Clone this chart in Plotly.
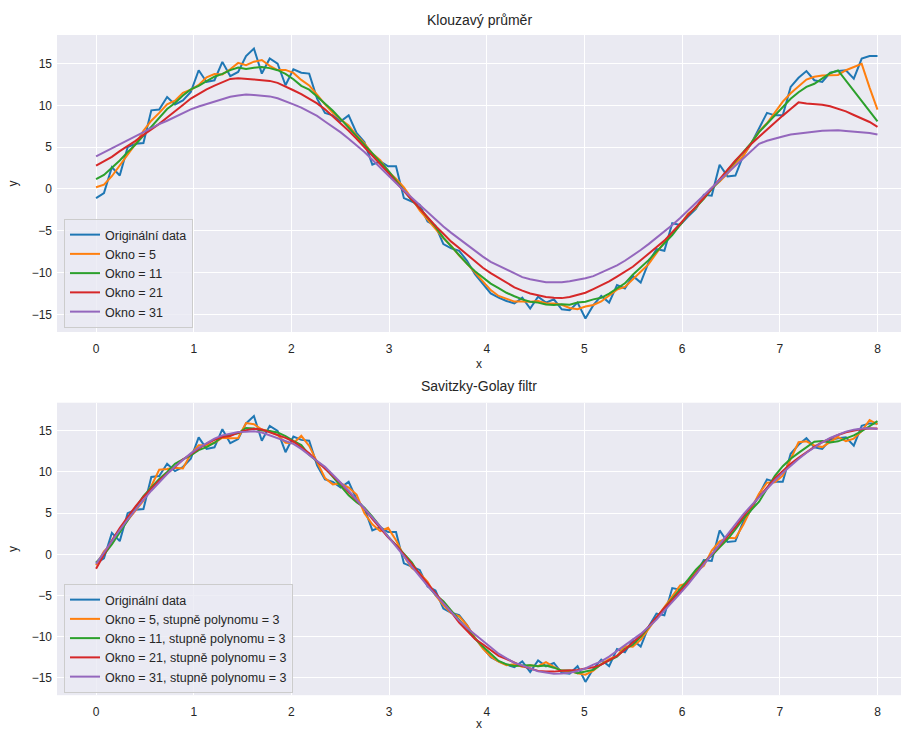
import numpy as np
import plotly.graph_objects as go

# ---- data ----
n_points = 100
x_start, x_end = 0.0, 8.0
y_orig = [
    -1.1, -0.5, 2.6, 1.6, 5.0, 5.4, 5.5, 9.4, 9.5, 11.0,
    10.1, 10.6, 11.6, 14.2, 12.8, 13.0, 15.2, 13.5, 14.0, 15.9,
    16.8, 13.8, 15.6, 15.0, 12.4, 14.3, 13.9, 13.8, 10.8, 9.1,
    8.8, 8.1, 8.8, 6.7, 5.6, 2.9, 3.3, 2.7, 2.7, -1.1,
    -1.5, -1.9, -3.9, -4.4, -6.6, -7.1, -7.4, -8.6, -10.2, -11.4,
    -12.5, -13.0, -13.4, -13.7, -13.0, -14.3, -12.9, -13.6, -13.2, -14.4,
    -14.5, -13.6, -15.5, -13.9, -12.8, -13.6, -11.5, -11.9, -10.4, -11.2,
    -8.8, -7.2, -7.4, -4.1, -4.3, -3.3, -2.4, -0.7, -0.8, 2.9,
    1.5, 1.6, 4.0, 5.4, 7.2, 9.1, 8.8, 8.8, 12.2, 13.3,
    14.1, 13.0, 12.8, 13.9, 14.1, 14.2, 13.2, 15.6, 15.9, 15.9,
]
windows = [5, 11, 21, 31]
poly_order = 3
x_ticks = [0, 1, 2, 3, 4, 5, 6, 7, 8]
y_ticks = [-15, -10, -5, 0, 5, 10, 15]
colors = ["#1f77b4", "#ff7f0e", "#2ca02c", "#d62728", "#9467bd"]
title_ma = "Klouzavý průměr"
title_sg = "Savitzky-Golay filtr"
label_orig = "Originální data"

x = np.linspace(x_start, x_end, n_points)
y = np.array(y_orig)


def moving_average(v, w):
    return np.convolve(v, np.ones(w) / w, mode="same")


def savgol(v, w, p):
    half = w // 2
    n = len(v)
    out = np.empty(n)
    t = np.arange(-half, half + 1)
    A = np.vander(t, p + 1, increasing=True)
    coeffs = np.linalg.pinv(A)[0]
    for i in range(half, n - half):
        out[i] = np.dot(coeffs, v[i - half:i + half + 1])
    # edges: polynomial fit (scipy mode='interp')
    tt = np.arange(w)
    c0 = np.polyfit(tt, v[:w], p)
    out[:half] = np.polyval(c0, tt[:half])
    c1 = np.polyfit(tt, v[-w:], p)
    out[n - half:] = np.polyval(c1, tt[w - half:])
    return out


ma = [moving_average(y, w) for w in windows]
sg = [savgol(y, w, poly_order) for w in windows]

FONT = "Liberation Sans, Arial, sans-serif"
TXT = "#262626"
W, H = 901, 731

fig = go.Figure()

fig.add_trace(go.Scatter(x=x, y=y, mode="lines", name=label_orig,
                         line=dict(color=colors[0], width=2),
                         xaxis="x", yaxis="y", legend="legend"))
for k, w in enumerate(windows):
    fig.add_trace(go.Scatter(x=x, y=ma[k], mode="lines", name=f"Okno = {w}",
                             line=dict(color=colors[k + 1], width=2),
                             xaxis="x", yaxis="y", legend="legend"))

fig.add_trace(go.Scatter(x=x, y=y, mode="lines", name=label_orig,
                         line=dict(color=colors[0], width=2),
                         xaxis="x2", yaxis="y2", legend="legend2"))
for k, w in enumerate(windows):
    fig.add_trace(go.Scatter(x=x, y=sg[k], mode="lines",
                             name=f"Okno = {w}, stupně polynomu = {poly_order}",
                             line=dict(color=colors[k + 1], width=2),
                             xaxis="x2", yaxis="y2", legend="legend2"))


def yr(series):
    lo = min(np.min(s) for s in series)
    hi = max(np.max(s) for s in series)
    m = 0.05 * (hi - lo)
    return [lo - m, hi + m]


span = x_end - x_start
xr = [x_start - 0.05 * span, x_start + (901 - 96.7) / 97.6]

l = 57
top1, bot1 = 35, 332
top2, bot2 = 402.7, 695.2

axis_common = dict(showgrid=True, gridcolor="white", gridwidth=1, zeroline=False,
                   showline=False, ticks="", ticklen=0, automargin=False,
                   tickfont=dict(size=12, color=TXT, family=FONT))
xt = dict(ticklabelstandoff=8)
yt = dict(ticklabelstandoff=4)

fig.update_layout(
    width=W, height=H,
    margin=dict(l=l, r=0, t=0, b=0),
    paper_bgcolor="white", plot_bgcolor="#EAEAF2",
    font=dict(family=FONT, color=TXT),
    xaxis=dict(domain=[0, 1], range=xr, tickvals=x_ticks, anchor="y",
               title=dict(text="x", font=dict(size=12, color=TXT), standoff=4),
               **axis_common, **xt),
    yaxis=dict(domain=[1 - bot1 / H, 1 - top1 / H], range=yr([y] + ma), tickvals=y_ticks,
               anchor="x", title=dict(text="y", font=dict(size=12, color=TXT), standoff=11),
               **axis_common, **yt),
    xaxis2=dict(domain=[0, 1], range=xr, tickvals=x_ticks, anchor="y2",
                title=dict(text="x", font=dict(size=12, color=TXT), standoff=4),
                **axis_common, **xt),
    yaxis2=dict(domain=[1 - bot2 / H, 1 - top2 / H], range=yr([y] + sg), tickvals=y_ticks,
                anchor="x2", title=dict(text="y", font=dict(size=12, color=TXT), standoff=11),
                **axis_common, **yt),
    legend=dict(x=(64 - l) / (W - l), y=1 - 328 / H, xanchor="left", yanchor="bottom",
                bgcolor="rgba(234,234,242,0.8)", bordercolor="#CCCCCC", borderwidth=1,
                font=dict(size=12.5, color=TXT), tracegroupgap=0),
    legend2=dict(x=(64 - l) / (W - l), y=1 - 693 / H, xanchor="left", yanchor="bottom",
                 bgcolor="rgba(234,234,242,0.8)", bordercolor="#CCCCCC", borderwidth=1,
                 font=dict(size=12.5, color=TXT), tracegroupgap=0),
    annotations=[
        dict(text=title_ma, x=0.5, y=1 - 20 / H, xref="paper", yref="paper",
             showarrow=False, font=dict(size=14, color=TXT), xanchor="center", yanchor="middle"),
        dict(text=title_sg, x=0.5, y=1 - 386 / H, xref="paper", yref="paper",
             showarrow=False, font=dict(size=14, color=TXT), xanchor="center", yanchor="middle"),
    ],
    showlegend=True,
)

fig.write_html("out.html", config={"displayModeBar": False},
               post_script="document.body.style.margin='0';document.body.style.overflow='hidden';")
